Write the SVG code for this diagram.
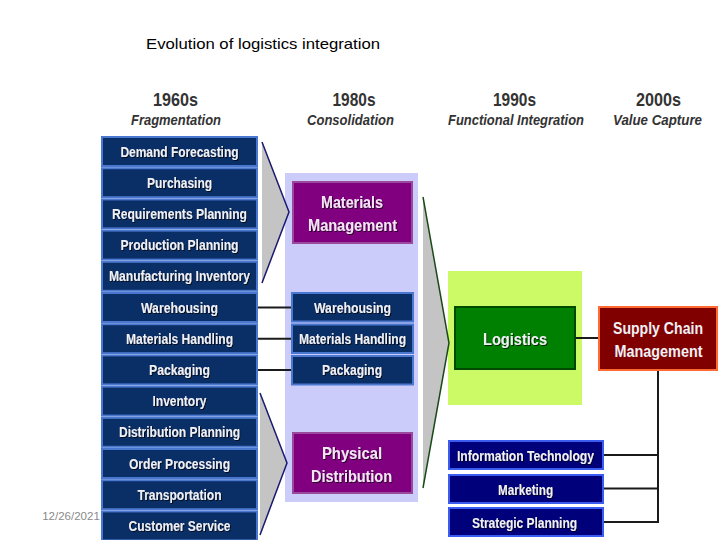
<svg xmlns="http://www.w3.org/2000/svg" width="720" height="540" viewBox="0 0 720 540">
<defs>
<style>
.t{font-family:"Liberation Sans",Arial,sans-serif;font-weight:bold;fill:#f0f0f6;text-anchor:middle;filter:url(#sh)}
.s{font-size:14px}
.b{font-size:17px}
.nv{fill:#0a2f66;stroke:#4a78d0;stroke-width:2}
.nb{fill:#00007a;stroke:#3a5cf0;stroke-width:2}
.hd{font-family:"Liberation Sans",Arial,sans-serif;font-weight:bold;fill:#333333;text-anchor:middle}
.yr{font-size:19px}
.sub{font-size:14.5px;font-style:italic}
.ln{stroke:#1a1a1a;stroke-width:2;fill:none}
</style>
<filter id="sh" x="-5%" y="-30%" width="110%" height="160%">
<feDropShadow dx="1" dy="1" stdDeviation="0.4" flood-color="#000000" flood-opacity="0.7"/>
</filter>
</defs>
<rect width="720" height="540" fill="#ffffff"/>
<text x="263" y="49" font-family="Liberation Sans, Arial, sans-serif" font-size="15" fill="#000" text-anchor="middle" textLength="234" lengthAdjust="spacingAndGlyphs">Evolution of logistics integration</text>
<text x="71" y="520" font-family="Liberation Sans, Arial, sans-serif" font-size="11.5" fill="#8a8a8a" text-anchor="middle">12/26/2021</text>

<g id="headers">
<text class="hd yr" x="175.5" y="106" textLength="45" lengthAdjust="spacingAndGlyphs">1960s</text>
<text class="hd sub" x="176" y="125" textLength="90" lengthAdjust="spacingAndGlyphs">Fragmentation</text>
<text class="hd yr" x="354" y="106" textLength="43" lengthAdjust="spacingAndGlyphs">1980s</text>
<text class="hd sub" x="350.5" y="125" textLength="87" lengthAdjust="spacingAndGlyphs">Consolidation</text>
<text class="hd yr" x="514.5" y="106" textLength="43" lengthAdjust="spacingAndGlyphs">1990s</text>
<text class="hd sub" x="516" y="125" textLength="136" lengthAdjust="spacingAndGlyphs">Functional Integration</text>
<text class="hd yr" x="658.5" y="106" textLength="45" lengthAdjust="spacingAndGlyphs">2000s</text>
<text class="hd sub" x="657.5" y="125" textLength="89" lengthAdjust="spacingAndGlyphs">Value Capture</text>
</g>

<g id="panels">
<rect x="285" y="173" width="133" height="329" fill="#ccccfa"/>
<rect x="448" y="271" width="134" height="134" fill="#ccfa66"/>
</g>

<g id="chevrons">
<polygon points="262,142 289,212 262,283" fill="#c4c4c4"/>
<polyline points="262,142 289,212 262,283" fill="none" stroke="#1a1a70" stroke-width="1.5"/>
<polygon points="260,393 287,463 260,535" fill="#c4c4c4"/>
<polyline points="260,393 287,463 260,535" fill="none" stroke="#1a1a70" stroke-width="1.5"/>
<polygon points="423,197 449,343 423,488" fill="#c4c4c4"/>
<polyline points="423,197 449,343 423,488" fill="none" stroke="#1a4a1a" stroke-width="1.5"/>
</g>

<g id="connectors">
<line class="ln" x1="257" y1="307.5" x2="292" y2="307.5"/>
<line class="ln" x1="257" y1="338.7" x2="292" y2="338.7"/>
<line class="ln" x1="257" y1="369.9" x2="292" y2="369.9"/>
<line class="ln" x1="575" y1="338" x2="599" y2="338"/>
<line class="ln" x1="658" y1="370" x2="658" y2="523"/>
<line class="ln" x1="603" y1="455" x2="659" y2="455"/>
<line class="ln" x1="603" y1="488.5" x2="659" y2="488.5"/>
<line class="ln" x1="603" y1="522" x2="659" y2="522"/>
</g>

<g id="n-demand-forecasting"><rect class="nv" x="102" y="137" width="155" height="29"/><text class="t s" x="179.5" y="156.5" textLength="118" lengthAdjust="spacingAndGlyphs">Demand Forecasting</text></g>
<g id="n-purchasing"><rect class="nv" x="102" y="168.2" width="155" height="29"/><text class="t s" x="179.5" y="187.7" textLength="65" lengthAdjust="spacingAndGlyphs">Purchasing</text></g>
<g id="n-requirements-planning"><rect class="nv" x="102" y="199.4" width="155" height="29"/><text class="t s" x="179.5" y="218.9" textLength="135" lengthAdjust="spacingAndGlyphs">Requirements Planning</text></g>
<g id="n-production-planning"><rect class="nv" x="102" y="230.6" width="155" height="29"/><text class="t s" x="179.5" y="250.1" textLength="118" lengthAdjust="spacingAndGlyphs">Production Planning</text></g>
<g id="n-manufacturing-inventory"><rect class="nv" x="102" y="261.8" width="155" height="29"/><text class="t s" x="179.5" y="281.3" textLength="141" lengthAdjust="spacingAndGlyphs">Manufacturing Inventory</text></g>
<g id="n-warehousing-1"><rect class="nv" x="102" y="293" width="155" height="29"/><text class="t s" x="179.5" y="312.5" textLength="77" lengthAdjust="spacingAndGlyphs">Warehousing</text></g>
<g id="n-materials-handling-1"><rect class="nv" x="102" y="324.2" width="155" height="29"/><text class="t s" x="179.5" y="343.7" textLength="107" lengthAdjust="spacingAndGlyphs">Materials Handling</text></g>
<g id="n-packaging-1"><rect class="nv" x="102" y="355.4" width="155" height="29"/><text class="t s" x="179.5" y="374.9" textLength="61" lengthAdjust="spacingAndGlyphs">Packaging</text></g>
<g id="n-inventory"><rect class="nv" x="102" y="386.6" width="155" height="29"/><text class="t s" x="179.5" y="406.1" textLength="54" lengthAdjust="spacingAndGlyphs">Inventory</text></g>
<g id="n-distribution-planning"><rect class="nv" x="102" y="417.8" width="155" height="29"/><text class="t s" x="179.5" y="437.3" textLength="121" lengthAdjust="spacingAndGlyphs">Distribution Planning</text></g>
<g id="n-order-processing"><rect class="nv" x="102" y="449" width="155" height="29"/><text class="t s" x="179.5" y="468.5" textLength="101" lengthAdjust="spacingAndGlyphs">Order Processing</text></g>
<g id="n-transportation"><rect class="nv" x="102" y="480.2" width="155" height="29"/><text class="t s" x="179.5" y="499.7" textLength="84" lengthAdjust="spacingAndGlyphs">Transportation</text></g>
<g id="n-customer-service"><rect class="nv" x="102" y="511.4" width="155" height="29"/><text class="t s" x="179.5" y="530.9" textLength="102" lengthAdjust="spacingAndGlyphs">Customer Service</text></g>

<g id="n-materials-management"><rect x="293" y="182" width="119" height="61" fill="#800080" stroke="#9a4a9a" stroke-width="2"/><text class="t b" x="352" y="208" style="fill:#f4e4f4" textLength="62" lengthAdjust="spacingAndGlyphs">Materials</text><text class="t b" x="352.5" y="231" style="fill:#f4e4f4" textLength="89" lengthAdjust="spacingAndGlyphs">Management</text></g>
<g id="n-warehousing-2"><rect class="nv" x="292" y="293" width="121" height="28.5"/><text class="t s" x="352.5" y="312.5" textLength="77" lengthAdjust="spacingAndGlyphs">Warehousing</text></g>
<g id="n-materials-handling-2"><rect class="nv" x="292" y="324.5" width="121" height="28.5"/><text class="t s" x="352.5" y="343.7" textLength="107" lengthAdjust="spacingAndGlyphs">Materials Handling</text></g>
<g id="n-packaging-2"><rect class="nv" x="292" y="356" width="121" height="28.5"/><text class="t s" x="352" y="374.9" textLength="60" lengthAdjust="spacingAndGlyphs">Packaging</text></g>
<g id="n-physical-distribution"><rect x="293" y="433" width="119" height="60" fill="#800080" stroke="#9a4a9a" stroke-width="2"/><text class="t b" x="352" y="459" style="fill:#f4e4f4" textLength="60" lengthAdjust="spacingAndGlyphs">Physical</text><text class="t b" x="351.5" y="482" style="fill:#f4e4f4" textLength="81" lengthAdjust="spacingAndGlyphs">Distribution</text></g>

<g id="n-logistics"><rect x="455" y="307" width="120" height="62" fill="#008000" stroke="#004a00" stroke-width="2"/><text class="t b" x="515" y="345" textLength="64" lengthAdjust="spacingAndGlyphs">Logistics</text></g>
<g id="n-supply-chain-management"><rect x="599" y="307" width="118" height="63" fill="#800000" stroke="#ff6a33" stroke-width="2"/><text class="t" x="658" y="334" style="font-size:16px;filter:none" textLength="90" lengthAdjust="spacingAndGlyphs">Supply Chain</text><text class="t" x="658.5" y="357" style="font-size:16px;filter:none" textLength="88" lengthAdjust="spacingAndGlyphs">Management</text></g>

<g id="n-information-technology"><rect class="nb" x="449" y="441" width="154" height="28"/><text class="t s" x="525.5" y="461" textLength="137" lengthAdjust="spacingAndGlyphs">Information Technology</text></g>
<g id="n-marketing"><rect class="nb" x="449" y="475" width="154" height="28"/><text class="t s" x="525.5" y="494.5" textLength="55" lengthAdjust="spacingAndGlyphs">Marketing</text></g>
<g id="n-strategic-planning"><rect class="nb" x="449" y="508" width="154" height="28"/><text class="t s" x="524.5" y="527.5" textLength="105" lengthAdjust="spacingAndGlyphs">Strategic Planning</text></g>
</svg>
